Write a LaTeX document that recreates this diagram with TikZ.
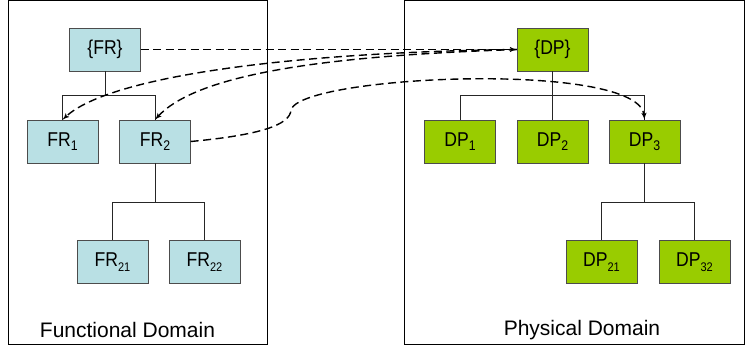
\documentclass[tikz,border=0pt]{standalone}
\usepackage{fontspec}
\setmainfont{Liberation Sans}
\newfontfamily\boxfont[FakeStretch=0.88]{Liberation Sans}
\usetikzlibrary{arrows}
\definecolor{frblue}{RGB}{185,224,228}
\definecolor{dpgreen}{RGB}{153,204,0}
\newcommand{\subone}[1]{\raisebox{-4.5pt}{\fontsize{14}{14}\selectfont #1}}
\newcommand{\subtwo}[1]{\raisebox{-5pt}{\fontsize{12.5}{12.5}\selectfont #1}}

\begin{document}
\begin{tikzpicture}[x=1pt,y=-1pt]
\tikzset{frbox/.style = {shape=rectangle,draw=black!70,fill=frblue,minimum width=71pt,minimum height=43pt,inner sep=0pt,font=\boxfont\fontsize{20}{22}\selectfont}}
\tikzset{dpbox/.style = {frbox,fill=dpgreen}}
\tikzset{branch/.style = {draw=black!85,line width=0.8pt}}
\tikzset{link/.style = {->,> = latex',dash pattern=on 8pt off 4.5pt,line width=1.4pt}}
\useasboundingbox (0,0) rectangle (745,349);
\draw[line width=0.8pt] (8,0.5) rectangle (267.5,344.5);
\draw[line width=0.8pt] (404,0.5) rectangle (744.5,344.5);
\node[font=\fontsize{21}{23}\selectfont] (fdom) at (127.5,330) {Functional Domain};
\node[font=\fontsize{21}{23}\selectfont] (pdom) at (582,330) {Physical Domain};

\node[frbox] (FR) at (105,49.5) {\{FR\}};
\node[frbox] (FR1) at (62.5,141.5) {FR\subone{1}};
\node[frbox] (FR2) at (155,141.5) {FR\subone{2}};
\node[frbox] (FR21) at (112.5,262) {FR\subtwo{21}};
\node[frbox] (FR22) at (204.5,262) {FR\subtwo{22}};

\node[dpbox] (DP) at (552.5,49.5) {\{DP\}};
\node[dpbox] (DP1) at (460,141.5) {DP\subone{1}};
\node[dpbox] (DP2) at (552.5,141.5) {DP\subone{2}};
\node[dpbox] (DP3) at (644.5,141.5) {DP\subone{3}};
\node[dpbox] (DP21) at (601.5,262) {DP\subtwo{21}};
\node[dpbox] (DP32) at (694.5,262) {DP\subtwo{32}};

\coordinate (jFR) at (105,95);
\coordinate (jFR2) at (155,202);
\coordinate (jDP) at (552.5,95);
\coordinate (jDP3) at (644.5,202);
\draw[branch] (FR.south) -- (jFR) -| (FR1.north);
\draw[branch] (jFR) -| (FR2.north);
\draw[branch] (FR2.south) -- (jFR2) -| (FR21.north);
\draw[branch] (jFR2) -| (FR22.north);
\draw[branch] (DP.south) -- (DP2.north);
\draw[branch] (jDP) -| (DP1.north);
\draw[branch] (jDP) -| (DP3.north);
\draw[branch] (DP3.south) -- (jDP3) -| (DP21.north);
\draw[branch] (jDP3) -| (DP32.north);

\coordinate (kink) at (291,110);
\draw[link] (FR.east) to (DP.west);
\draw[link] (DP.west) .. controls (300,52) and (110,75) .. (FR1.north);
\draw[link] (DP.west) .. controls (350,55) and (200,70) .. (FR2.north);
\draw[link] (FR2.east) .. controls (260,135) and (290,125) .. (kink)
  .. controls (300,75) and (640,60) .. (DP3.north);
\end{tikzpicture}
\end{document}
